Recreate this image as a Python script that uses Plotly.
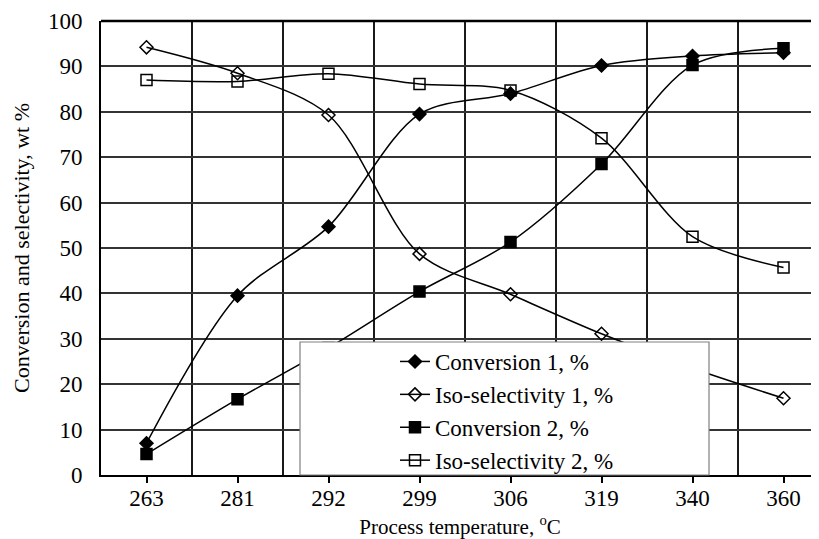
import plotly.graph_objects as go

temps = ["263", "281", "292", "299", "306", "319", "340", "360"]
conversion1 = [7.0, 39.5, 54.7, 79.5, 84.0, 90.2, 92.3, 93.0]
iso_sel1 = [94.2, 88.5, 79.3, 48.7, 39.8, 31.1, 23.5, 16.9]
conversion2 = [4.6, 16.7, 28.0, 40.4, 51.3, 68.5, 90.3, 94.0]
iso_sel2 = [87.0, 86.7, 88.4, 86.1, 84.7, 74.2, 52.5, 45.7]

xpos = list(range(len(temps)))
FONT = "Liberation Serif, Times New Roman, serif"

fig = go.Figure()
series = [
    ("Conversion 1, %", conversion1, "diamond", 10),
    ("Iso-selectivity 1, %", iso_sel1, "diamond-open", 10),
    ("Conversion 2, %", conversion2, "square", 11),
    ("Iso-selectivity 2, %", iso_sel2, "square-open", 11),
]
for name, vals, sym, sz in series:
    fig.add_trace(go.Scatter(
        x=xpos, y=vals, name=name, mode="lines+markers",
        line=dict(color="black", width=1.5, shape="spline", smoothing=0.9),
        marker=dict(symbol=sym, size=sz, color="black",
                    line=dict(color="black", width=1.5)),
    ))

# page body has an 8px margin, so the figure is shrunk to fit the window
OFF = 8
W, H = 819 - OFF, 539 - OFF
L, T, B = 101 - OFF, 21 - OFF, 64
pw = W - L
ph = H - T - B

def px_x(p):
    return (p - OFF - L) / pw

def px_y(p):
    return (H - B - (p - OFF)) / ph

# vertical separators between temperature categories
for i in range(len(temps) - 1):
    fig.add_shape(type="line", xref="x", yref="paper", x0=i + 0.5, x1=i + 0.5,
                  y0=0, y1=1, line=dict(color="black", width=1.8), layer="below")

# white legend box
fig.add_shape(type="rect", xref="paper", yref="paper",
              x0=px_x(300), x1=px_x(709), y0=px_y(475), y1=px_y(342),
              fillcolor="white", line=dict(color="#808080", width=1.2),
              layer="above")

fig.update_layout(
    width=W, height=H,
    margin=dict(l=L, r=0, t=T, b=B, pad=0),
    paper_bgcolor="white", plot_bgcolor="white",
    font=dict(family=FONT, size=21, color="black"),
    showlegend=True,
    legend=dict(x=px_x(395), y=px_y(340), xanchor="left", yanchor="top",
                bgcolor="rgba(0,0,0,0)", borderwidth=0,
                font=dict(family=FONT, size=23, color="black"),
                tracegroupgap=0, itemwidth=30),
    xaxis=dict(
        range=[-0.5, 7.39], tickmode="array", tickvals=xpos, ticktext=temps,
        showgrid=False, zeroline=False,
        showline=True, linecolor="black", linewidth=2, mirror=False,
        ticks="", ticklabelstandoff=1,
        tickfont=dict(family=FONT, size=23),
        minor=dict(tickvals=xpos, ticks="outside", ticklen=6, tickwidth=1.5,
                   tickcolor="black", showgrid=False),
        title=dict(text="Process temperature, <sup>o</sup>C",
                   font=dict(family=FONT, size=21), standoff=10),
    ),
    yaxis=dict(
        range=[0, 100], dtick=10, showgrid=True, gridcolor="#333333",
        gridwidth=1.5, zeroline=False,
        showline=True, linecolor="black", linewidth=2,
        ticks="", ticklabelstandoff=12, tickfont=dict(family=FONT, size=23),
        title=dict(text="Conversion and selectivity, wt %",
                   font=dict(family=FONT, size=22), standoff=12),
    ),
)

# top border
fig.add_shape(type="line", xref="paper", yref="paper", x0=0, x1=1, y0=1, y1=1,
              line=dict(color="black", width=2.5), layer="above")

fig.write_html("out.html")
